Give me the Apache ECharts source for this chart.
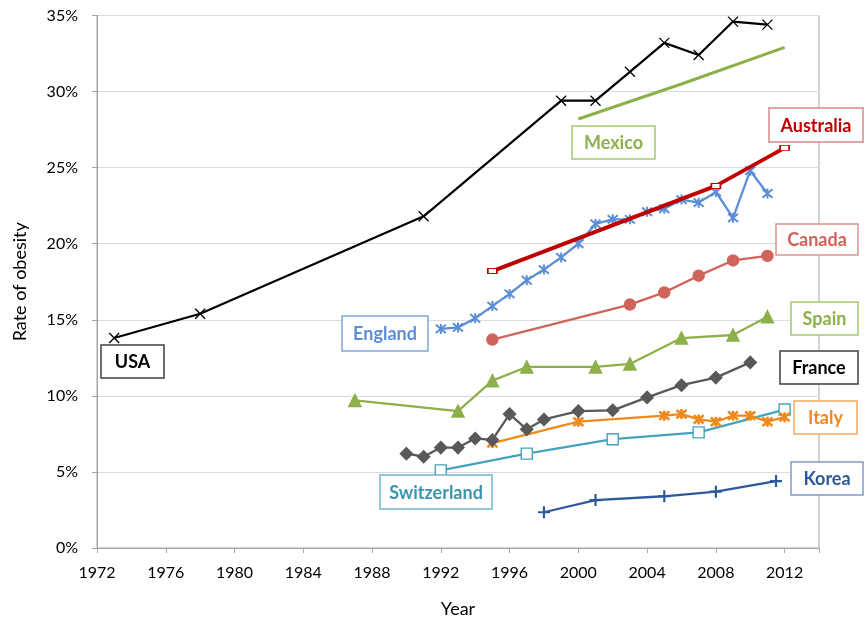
<!DOCTYPE html>
<html><head><meta charset="utf-8">
<script src="https://cdn.jsdelivr.net/npm/echarts@6/dist/echarts.min.js"></script>
<style>html,body{margin:0;padding:0;background:#fff}#c{width:864px;height:623px}</style>
</head><body><div id="c"></div>
<script>
// Data: [year, rate %]
const usa = [[1973,13.8],[1978,15.4],[1991,21.8],[1999,29.4],[2001,29.4],[2003,31.3],[2005,33.2],[2007,32.4],[2009,34.6],[2011,34.4]];
const mexico = [[2000,28.2],[2006,30.5],[2012,32.9]];
const australia = [[1995,18.2],[2008,23.8],[2012,26.3]];
const england = [[1992,14.4],[1993,14.5],[1994,15.1],[1995,15.9],[1996,16.7],[1997,17.6],[1998,18.3],[1999,19.1],[2000,20.0],[2001,21.3],[2002,21.6],[2003,21.6],[2004,22.1],[2005,22.3],[2006,22.9],[2007,22.7],[2008,23.4],[2009,21.7],[2010,24.8],[2011,23.3]];
const canada = [[1995,13.7],[2003,16.0],[2005,16.8],[2007,17.9],[2009,18.9],[2011,19.2]];
const spain = [[1987,9.7],[1993,9.0],[1995,11.0],[1997,11.9],[2001,11.9],[2003,12.1],[2006,13.8],[2009,14.0],[2011,15.2]];
const france = [[1990,6.2],[1991,6.0],[1992,6.6],[1993,6.6],[1994,7.2],[1995,7.1],[1996,8.8],[1997,7.8],[1998,8.45],[2000,9.0],[2002,9.05],[2004,9.9],[2006,10.7],[2008,11.2],[2010,12.2]];
const italy = [[1995,6.9],[2000,8.3],[2005,8.7],[2006,8.8],[2007,8.45],[2008,8.3],[2009,8.7],[2010,8.7],[2011,8.3],[2012,8.6]];
const switzerland = [[1992,5.1],[1997,6.2],[2002,7.15],[2007,7.6],[2012,9.1]];
const korea = [[1998,2.35],[2001,3.15],[2005,3.4],[2008,3.7],[2011.5,4.4]];
const yTicks = [0,5,10,15,20,25,30,35];
const xTickStart = 1972, xTickEnd = 2012;

const FONT = 'Lato, "Open Sans", sans-serif';
const crossPath = 'path://M0,0L10,10M10,0L0,10';
const starPath = 'path://M0,0L10,10M10,0L0,10M5,-1L5,11';
const plusPath = 'path://M5,0L5,10M0,5L10,5';
const tickPath = 'path://M5,0L5,10';

function line(name, data, color, symbol, size, opts) {
  opts = opts || {};
  return {
    name, type: 'line', data, symbol, symbolSize: size,
    showAllSymbol: true,
    lineStyle: { color, width: opts.width || 2.3 },
    itemStyle: { color: opts.fill || color, borderColor: color, borderWidth: opts.bw || 1.5 },
    z: opts.z || 2,
    animation: false
  };
}

const series = [
  line('Korea', korea, '#2E5A9A', plusPath, 12, {bw: 2.2}),
  line('Switzerland', switzerland, '#45A3BD', 'rect', 11, {fill: '#fff', bw: 1.4}),
  line('Italy', italy, '#EE8A1C', starPath, 10, {bw: 2.6}),
  line('France', france, '#595959', 'diamond', 12, {}),
  line('Spain', spain, '#8DB04B', 'triangle', 12, {}),
  line('Canada', canada, '#D0635C', 'circle', 11, {}),
  line('England', england, '#5B8ED6', starPath, 10, {bw: 2}),
  line('Australia', australia, '#C00000', 'rect', [9, 5], {fill: '#fff', bw: 1.3, width: 3.8, z: 3}),
  line('Mexico', mexico, '#8DB04B', tickPath, 9, {bw: 1.5, width: 3}),
  line('USA', usa, '#000000', crossPath, 10, {bw: 1.3, width: 2.2})
];

const labels = [
  {t: 'USA', x: 101, y: 345, w: 63, h: 33, c: '#000000', b: '#404040'},
  {t: 'England', x: 342, y: 316, w: 86, h: 35, c: '#5B8ED6', b: '#7FA6DC'},
  {t: 'Switzerland', x: 380, y: 475, w: 112, h: 34, c: '#3A95AE', b: '#6DB5C9'},
  {t: 'Mexico', x: 572, y: 126, w: 83, h: 33, c: '#8DB04B', b: '#A8C474'},
  {t: 'Australia', x: 769, y: 108, w: 94, h: 34, c: '#C00000', b: '#D88A8A'},
  {t: 'Canada', x: 776, y: 224, w: 82, h: 31, c: '#CF625B', b: '#DB9590'},
  {t: 'Spain', x: 791, y: 302, w: 67, h: 33, c: '#8DB04B', b: '#A8C474'},
  {t: 'France', x: 780, y: 351, w: 78, h: 33, c: '#000000', b: '#404040'},
  {t: 'Italy', x: 794, y: 401, w: 63, h: 33, c: '#EE8A1C', b: '#F0AA66'},
  {t: 'Korea', x: 791, y: 462, w: 72, h: 33, c: '#2E5A9A', b: '#7F9CC4'}
];
const graphic = [];
labels.forEach(l => {
  graphic.push({type: 'rect', shape: {x: l.x, y: l.y, width: l.w, height: l.h}, style: {fill: '#fff', stroke: l.b, lineWidth: 1.5}, z: 100});
  graphic.push({type: 'text', x: l.x + l.w / 2, y: l.y + l.h / 2 + 1, style: {text: l.t, fill: l.c, font: 'bold 18px ' + FONT, align: 'center', verticalAlign: 'middle'}, z: 101});
});

const chart = echarts.init(document.getElementById('c'), null, {renderer: 'canvas'});
chart.setOption({
  animation: false,
  backgroundColor: '#fff',
  grid: {left: 97, right: 45, top: 15.5, bottom: 72, show: true, borderColor: '#A6A6A6', borderWidth: 1, containLabel: false},
  xAxis: {
    type: 'value', min: 1972, max: 2014, interval: 4,
    name: 'Year', nameLocation: 'middle', nameGap: 52,
    nameTextStyle: {fontSize: 18, color: '#000', fontFamily: FONT},
    axisLine: {show: true, lineStyle: {color: '#A6A6A6', width: 1}},
    axisTick: {show: true, length: 5, lineStyle: {color: '#A6A6A6'}},
    axisLabel: {fontSize: 16, color: '#000', fontFamily: FONT, margin: 17,
      formatter: v => (v >= xTickStart && v <= xTickEnd) ? String(v) : ''},
    splitLine: {show: false}
  },
  yAxis: {
    type: 'value', min: yTicks[0], max: yTicks[yTicks.length - 1], interval: 5,
    name: 'Rate of obesity', nameLocation: 'middle', nameGap: 68,
    nameTextStyle: {fontSize: 18, color: '#000', fontFamily: FONT},
    axisLine: {show: true, lineStyle: {color: '#A6A6A6', width: 1}},
    axisTick: {show: true, length: 5, lineStyle: {color: '#A6A6A6'}},
    axisLabel: {fontSize: 16, color: '#000', fontFamily: FONT, margin: 19, formatter: '{value}%'},
    splitLine: {show: true, lineStyle: {color: '#DCDCDC', width: 1}}
  },
  series,
  graphic
});
</script>
</body></html>
